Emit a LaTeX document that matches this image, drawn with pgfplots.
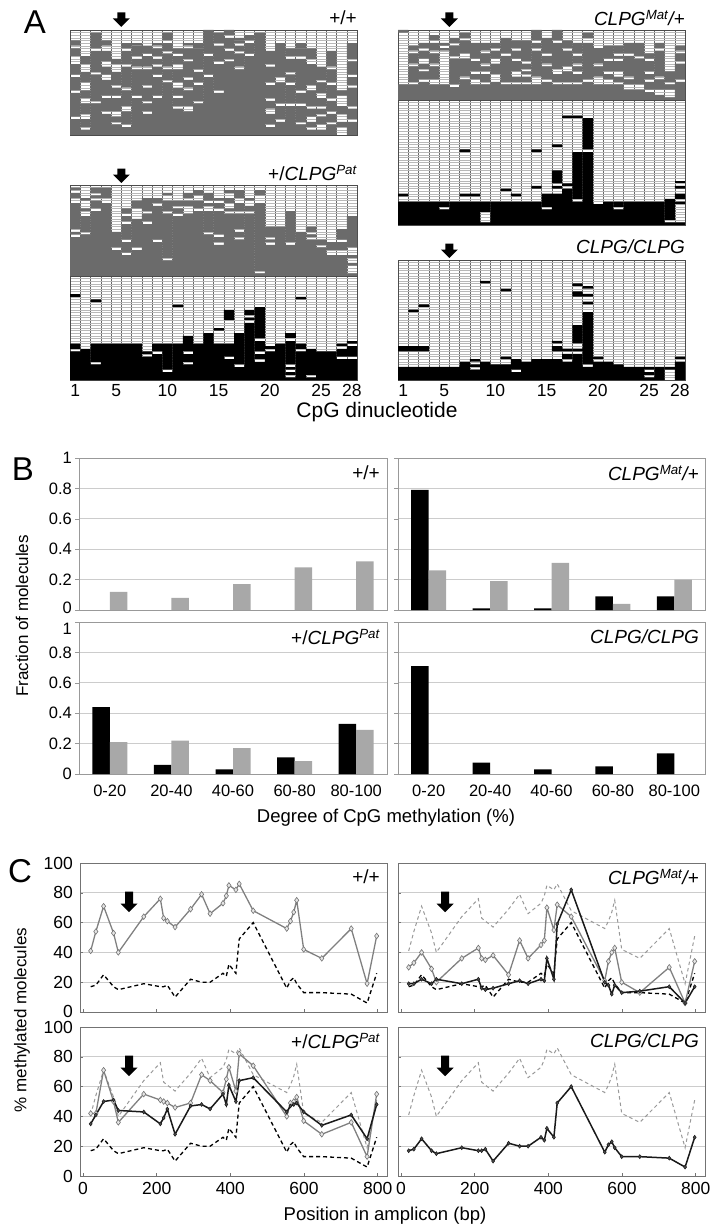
\documentclass[border=0pt]{standalone}
\usepackage{fontspec}
\setmainfont{Liberation Sans}
\usepackage{pgfplots}
\usepackage{pgfplotstable}
\pgfplotsset{compat=1.18}

\definecolor{cgray}{gray}{0.42}
\definecolor{bgray}{gray}{0.66}
\newcommand{\fs}[1]{\fontsize{#1}{#1}\selectfont}

\pgfplotsset{
  mgrid/.style={scale only axis, anchor=north west, width=287pt, height=#1,
     xmin=0.5, xmax=28.5, ymin=0, clip=false,
     ybar stacked, bar width=1,
     xtick={1.5,2.5,...,27.5}, xmajorgrids, x grid style={black!60, line width=0.5pt},
     ymajorgrids, y grid style={black!28, line width=0.3pt},
     xticklabels={}, yticklabels={}, major tick length=0pt,
     axis line style={black!70, line width=0.5pt}},
  rows/.style={ymax=#1, ytick={1,...,#1}},
  G/.style={fill=cgray, draw=none},
  K/.style={fill=black, draw=none},
  W/.style={fill=none, draw=none},
  gs1/.style={G}, gs2/.style={W}, gs3/.style={G}, gs4/.style={W}, gs5/.style={G},
  gs6/.style={W}, gs7/.style={G}, gs8/.style={W}, gs9/.style={G}, gs10/.style={W}, gs11/.style={G},
  ks1/.style={K}, ks2/.style={W}, ks3/.style={K}, ks4/.style={W}, ks5/.style={K},
  ks6/.style={W}, ks7/.style={K}, ks8/.style={W}, ks9/.style={K},
  aticks/.style={extra x ticks={1,5,10,15,20,25,28}, extra x tick labels={1,5,10,15,20,25,28},
     extra x tick style={grid=none, major tick length=0pt, tick label style={font=\fs{17.5}, yshift=-1pt}}},
  bax/.style={scale only axis, anchor=north west, height=152pt, xmin=0.5, xmax=5.5, ymin=0, ymax=1,
     ytick={0,0.2,0.4,0.6,0.8,1}, yticklabels={}, ymajorgrids, y grid style={black!20, line width=0.7pt},
     xtick={1,...,5}, xticklabels={}, axis line style={black!40, line width=0.8pt},
     ytick style={black!40, line width=0.6pt}, xtick style={draw=none}, major tick length=4pt,
     tick align=outside, ytick pos=left, xtick pos=bottom,
     tick label style={font=\fs{16.5}, inner sep=1pt}, xticklabel style={yshift=-6pt},
     yticklabel style={xshift=-2pt}},
  bk/.style={ybar, bar width=17.5pt, bar shift=-8.75pt, fill=black, draw=none},
  bg/.style={ybar, bar width=17.5pt, bar shift=8.75pt, fill=bgray, draw=none},
  cax/.style={scale only axis, anchor=north west, width=307pt, height=149pt,
     xmin=-8, xmax=825, ymin=0, ymax=100,
     ytick={0,20,40,60,80,100}, yticklabels={}, xtick={0,200,400,600,800}, xticklabels={},
     ymajorgrids, y grid style={black!20, line width=0.7pt},
     axis line style={black!55, line width=0.8pt}, tick style={black!55, line width=0.6pt},
     major tick length=3pt, tick align=inside, ytick pos=left, xtick pos=bottom,
     tick label style={font=\fs{17.5}, inner sep=1pt}, xticklabel style={yshift=-5pt},
     yticklabel style={xshift=-6pt}},
  refk/.style={black, line width=1.3pt, dash pattern=on 4pt off 3pt},
  refg/.style={black!40, line width=1pt, dash pattern=on 3.5pt off 3pt},
  graydia/.style={black!50, line width=1.3pt, mark=diamond*, mark size=2.8pt,
     mark options={fill=black!10, draw=black!55, line width=0.6pt, solid}},
  blackdia/.style={black!90, line width=1.5pt, mark=diamond*, mark size=2pt,
     mark options={fill=black!70, draw=black!90, line width=0.5pt, solid}},
}

\newcommand{\stackruns}[3]{\pgfplotsinvokeforeach{1,...,#2}{\addplot[#3##1] table[x=c,y=l##1]{#1};}}
\newcommand{\darrow}[2]{\fill[black] #1 -- ++(8.5pt,8.5pt) -- ++(-4.5pt,0pt) -- ++(0pt,#2) -- ++(-8pt,0pt) -- ++(0pt,-#2) -- ++(-4.5pt,0pt) -- cycle;}

% ---------- Panel A: run lengths per CpG column (bottom to top) ----------
\pgfplotstableread{
c l1 l2 l3 l4 l5 l6 l7 l8 l9 l10 l11
1 6 1 9 1 5 1 4 3 3 1 2
2 2 1 3 2 4 2 3 3 4 3 3
3 12 1 10 1 8 1 4 0 0 0 2
4 8 1 5 1 6 2 3 2 4 2 2
5 4 1 2 2 5 1 3 1 5 3 2
6 3 1 5 2 6 1 8 1 5 1 2
7 14 1 10 1 3 1 4 0 0 0 1
8 8 1 3 1 5 1 6 1 4 1 3
9 14 1 7 1 3 1 2 1 3 1 1
10 20 1 4 1 5 1 3 1 2 0 1
11 10 1 3 1 3 2 5 2 3 1 2
12 9 2 6 1 3 1 6 1 4 1 1
13 12 1 6 1 4 1 8 0 0 0 2
14 22 1 7 1 9 0 0 0 0 0 0
15 16 1 10 1 6 1 4 0 0 0 0
16 28 1 3 1 4 1 2 0 0 0 0
17 25 1 5 1 2 1 1 0 0 0 1
18 30 1 4 1 2 0 0 0 0 0 0
19 38 0 0 0 0 0 0 0 0 0 1
20 3 1 4 2 3 1 5 1 6 1 5
21 5 1 5 1 8 2 10 0 0 0 3
22 11 1 7 1 3 1 5 1 2 0 1
23 4 1 6 1 4 1 12 1 3 0 2
24 2 1 2 2 3 1 6 2 8 2 4
25 2 2 3 1 2 1 3 2 4 1 5
26 4 1 3 1 4 1 5 1 5 1 6
27 0 3 2 3 3 4 2 0 0 0 0
28 5 1 4 1 7 1 3 1 5 1 6
}\tWT

\pgfplotstableread{
c l1 l2 l3 l4 l5 l6 l7 l8 l9
1 6 20 1 0 0 0 0 0 0
2 6 1 6 1 4 1 2 0 0
3 7 1 3 1 2 2 3 1 2
4 6 2 5 1 4 1 3 1 2
5 6 13 1 1 1 0 0 0 0
6 5 1 10 1 4 1 2 0 0
7 8 1 7 2 5 1 2 0 0
8 6 2 2 1 4 1 6 0 0
9 6 1 3 1 2 1 4 1 3
10 7 3 4 2 3 1 2 0 0
11 6 1 10 1 6 0 0 0 0
12 6 1 2 2 4 1 3 1 3
13 6 1 2 1 1 1 2 1 8
14 6 3 10 1 2 1 4 0 0
15 7 1 5 1 3 1 6 0 0
16 6 1 3 2 10 1 4 0 0
17 6 1 4 2 6 1 3 0 0
18 6 1 3 1 2 1 3 1 4
19 7 1 14 2 2 0 0 0 0
20 6 3 4 1 6 0 0 0 0
21 6 2 2 1 4 1 5 0 0
22 6 1 2 2 4 1 1 1 3
23 4 2 2 1 8 1 4 0 0
24 4 2 10 1 5 0 0 0 0
25 3 1 3 1 2 1 4 1 2
26 2 2 4 1 10 1 2 0 0
27 1 3 2 1 4 0 0 0 0
28 7 1 6 1 3 1 2 0 0
}\tMU

\pgfplotstableread{
c l1 l2 l3 l4 l5 l6 l7 l8 l9
1 9 2 1 0 0 0 0 0 0
2 9 0 0 0 0 0 0 0 0
3 9 0 0 0 0 0 0 0 0
4 9 0 0 0 0 0 0 0 0
5 6 1 2 0 0 0 0 0 0
6 9 0 0 0 0 0 0 0 0
7 9 2 1 16 1 0 0 0 0
8 9 2 1 0 0 0 0 0 0
9 1 4 4 0 0 0 0 0 0
10 9 0 0 0 0 0 0 0 0
11 9 4 1 0 0 0 0 0 0
12 9 2 1 0 0 0 0 0 0
13 9 0 0 0 0 0 0 0 0
14 9 5 1 13 1 0 0 0 0
15 6 1 5 0 0 0 0 0 0
16 12 2 1 1 5 9 1 0 0
17 14 1 1 25 1 0 0 0 0
18 9 1 18 13 1 0 0 0 0
19 28 1 12 0 0 0 0 0 0
20 8 0 0 0 0 0 0 0 0
21 9 0 0 0 0 0 0 0 0
22 6 1 2 0 0 0 0 0 0
23 9 0 0 0 0 0 0 0 0
24 9 0 0 0 0 0 0 0 0
25 9 0 0 0 0 0 0 0 0
26 9 0 0 0 0 0 0 0 0
27 1 1 8 0 0 0 0 0 0
28 1 7 1 1 2 2 1 1 1
}\tML

\pgfplotstableread{
c l1 l2 l3 l4 l5 l6 l7 l8 l9
1 15 1 1 1 10 2 2 1 1
2 16 1 6 2 1 3 1 0 0
3 25 1 3 1 1 1 2 0 0
4 28 2 4 0 0 0 0 0 0
5 10 1 6 0 0 0 0 0 0
6 8 1 4 1 6 1 2 1 2
7 10 1 11 4 3 0 0 0 0
8 20 1 3 1 5 0 0 0 0
9 13 1 13 1 2 0 0 0 0
10 6 1 17 1 4 2 1 0 0
11 23 1 2 1 2 0 0 0 0
12 24 3 2 1 2 0 0 0 0
13 25 1 3 2 2 0 0 0 0
14 16 1 8 2 1 1 3 0 0
15 12 1 2 1 9 1 2 1 1
16 24 1 1 2 2 2 1 0 0
17 14 1 2 1 6 1 3 2 3
18 24 1 2 2 1 0 0 0 0
19 1 1 26 3 2 0 0 0 0
20 12 1 1 1 4 0 0 0 0
21 19 0 0 0 0 0 0 0 0
22 12 1 12 0 0 0 0 0 0
23 17 0 0 0 0 0 0 0 0
24 14 1 1 1 2 0 0 0 0
25 11 1 2 0 0 0 0 0 0
26 8 2 3 0 0 0 0 0 0
27 8 2 3 1 4 0 0 0 0
28 1 3 1 2 1 3 12 0 0
}\tPU

\pgfplotstableread{
c l1 l2 l3 l4 l5 l6 l7 l8 l9
1 11 1 2 18 1 0 0 0 0
2 12 0 0 0 0 0 0 0 0
3 6 1 7 16 1 0 0 0 0
4 14 0 0 0 0 0 0 0 0
5 14 0 0 0 0 0 0 0 0
6 14 0 0 0 0 0 0 0 0
7 14 0 0 0 0 0 0 0 0
8 9 1 1 0 0 0 0 0 0
9 10 1 3 0 0 0 0 0 0
10 3 1 10 0 0 0 0 0 0
11 14 14 1 0 0 0 0 0 0
12 6 1 3 1 6 0 0 0 0
13 14 0 0 0 0 0 0 0 0
14 18 0 0 0 0 0 0 0 0
15 14 5 1 0 0 0 0 0 0
16 8 1 5 9 4 0 0 0 0
17 5 1 12 0 0 0 0 0 0
18 22 1 1 1 2 0 0 0 0
19 7 1 2 1 4 1 12 0 0
20 11 1 1 0 0 0 0 0 0
21 14 0 0 0 0 0 0 0 0
22 1 1 1 1 1 1 9 1 2
23 11 1 2 17 1 0 0 0 0
24 1 1 10 0 0 0 0 0 0
25 11 0 0 0 0 0 0 0 0
26 11 0 0 0 0 0 0 0 0
27 8 1 3 1 1 0 0 0 0
28 8 1 4 1 1 0 0 0 0
}\tPL

\pgfplotstableread{
c l1 l2 l3 l4 l5 l6 l7 l8 l9
1 5 6 2 0 0 0 0 0 0
2 5 6 2 13 1 0 0 0 0
3 5 6 2 15 1 0 0 0 0
4 5 0 0 0 0 0 0 0 0
5 5 0 0 0 0 0 0 0 0
6 5 0 0 0 0 0 0 0 0
7 7 0 0 0 0 0 0 0 0
8 4 1 1 1 1 0 0 0 0
9 7 30 1 0 0 0 0 0 0
10 6 0 0 0 0 0 0 0 0
11 6 2 1 25 1 0 0 0 0
12 3 1 4 0 0 0 0 0 0
13 7 0 0 0 0 0 0 0 0
14 8 0 0 0 0 0 0 0 0
15 8 0 0 0 0 0 0 0 0
16 8 3 2 1 1 0 0 0 0
17 7 1 2 1 1 0 0 0 0
18 10 1 1 2 7 11 2 2 1
19 5 1 20 3 1 2 1 2 1
20 7 1 1 0 0 0 0 0 0
21 7 0 0 0 0 0 0 0 0
22 6 0 0 0 0 0 0 0 0
23 5 0 0 0 0 0 0 0 0
24 5 0 0 0 0 0 0 0 0
25 1 1 1 1 1 0 0 0 0
26 5 0 0 0 0 0 0 0 0
27 0 4 1 0 0 0 0 0 0
28 7 1 1 0 0 0 0 0 0
}\tH

% ---------- Panel C data ----------
\pgfplotstableread{
pos wt matg matk patg patk hom
21 41 30 19 42 35 17
35 54 33 19 42 41 18
56 71 40 22 71 50 25
83 53 29 19 50 51 17
96 40 20 22 36 44 15
165 64 36 19 55 43 19
210 76 43 22 51 35 17
219 63 36 16 50 39 17
229 61 35 15 49 45 18
250 57 38 16 46 28 10
292 69 25 19 49 47 22
322 79 48 21 68 48 20
345 66 36 19 64 45 20
380 73 45 22 56 55 26
389 78 48 21 65 48 24
396 85 70 36 73 61 32
415 82 55 22 57 50 26
424 86 72 59 82 64 49
462 68 64 82 74 66 60
553 56 21 20 40 43 16
563 61 34 18 49 47 21
572 67 40 12 50 48 23
580 75 43 18 53 49 19
599 42 20 13 37 43 13
648 36 13 14 28 34 13
728 56 30 17 36 41 12
771 19 6 6 13 25 6
797 51 34 17 55 48 26
}\cdat

\begin{document}
\begin{tikzpicture}[x=1pt,y=1pt]
\path[use as bounding box] (0,0) rectangle (709,-1225);

% ================= A =================
\node[font=\fs{33}] at (35,-22) {A};
\begin{axis}[mgrid=105pt, rows=40, at={(70pt,-30pt)}]
  \stackruns{\tWT}{11}{gs}
  \darrow{([yshift=3pt]axis cs:5.5,40)}{6pt}
\end{axis}
\begin{axis}[mgrid=70pt, rows=27, at={(398pt,-30pt)}]
  \stackruns{\tMU}{9}{gs}
  \darrow{([yshift=3pt]axis cs:5.5,27)}{6pt}
\end{axis}
\begin{axis}[mgrid=125pt, rows=48, at={(398pt,-100pt)}]
  \stackruns{\tML}{9}{ks}
\end{axis}
\begin{axis}[mgrid=91pt, rows=35, at={(70pt,-185pt)}]
  \stackruns{\tPU}{9}{gs}
  \darrow{([yshift=2pt]axis cs:5.5,35)}{6pt}
\end{axis}
\begin{axis}[mgrid=104pt, rows=40, at={(70pt,-276pt)}, aticks]
  \stackruns{\tPL}{9}{ks}
\end{axis}
\begin{axis}[mgrid=120pt, rows=46, at={(398pt,-260pt)}, aticks]
  \stackruns{\tH}{9}{ks}
  \darrow{([yshift=2pt]axis cs:5.5,46)}{6pt}
\end{axis}
\node[anchor=east, inner sep=0pt, font=\fs{19}] at (357,-18) {+/+};
\node[anchor=east, inner sep=0pt, font=\fs{19}] at (685,-18) {\textit{CLPG\textsuperscript{Mat}/+}};
\node[anchor=east, inner sep=0pt, font=\fs{19}] at (357,-173) {+/\textit{CLPG\textsuperscript{Pat}}};
\node[anchor=east, inner sep=0pt, font=\fs{19}] at (685,-247) {\textit{CLPG/CLPG}};
\node[font=\fs{21}] at (377,-412) {CpG dinucleotide};

% ================= B =================
\node[font=\fs{33}] at (23,-469) {B};
\begin{axis}[bax, width=308pt, at={(79pt,-458pt)}, yticklabels={{},0.2,0.4,0.6,0.8,1}]
  \addplot[bg] coordinates {(1,0.12)(2,0.08)(3,0.17)(4,0.28)(5,0.32)};
\end{axis}
\begin{axis}[bax, width=307pt, at={(398pt,-458pt)}]
  \addplot[bk] coordinates {(1,0.79)(2,0.01)(3,0.01)(4,0.09)(5,0.09)};
  \addplot[bg] coordinates {(1,0.26)(2,0.19)(3,0.31)(4,0.04)(5,0.20)};
\end{axis}
\begin{axis}[bax, width=308pt, at={(79pt,-622pt)}, yticklabels={0,0.2,0.4,0.6,0.8,{}},
   xticklabels={0-20,20-40,40-60,60-80,80-100}]
  \addplot[bk] coordinates {(1,0.44)(2,0.06)(3,0.03)(4,0.11)(5,0.33)};
  \addplot[bg] coordinates {(1,0.21)(2,0.22)(3,0.17)(4,0.085)(5,0.29)};
\end{axis}
\begin{axis}[bax, width=307pt, at={(398pt,-622pt)}, xticklabels={0-20,20-40,40-60,60-80,80-100}]
  \addplot[bk] coordinates {(1,0.71)(2,0.075)(3,0.03)(4,0.05)(5,0.135)};
\end{axis}
\node[anchor=east, inner sep=0pt, font=\fs{16.5}] at (72,-608) {0};
\node[anchor=east, inner sep=0pt, font=\fs{16.5}] at (72,-629) {1};
\node[rotate=90, font=\fs{17}] at (22,-616) {Fraction of molecules};
\node[font=\fs{18.5}] at (386,-818) {Degree of CpG methylation (\%)};
\node[anchor=east, inner sep=0pt, font=\fs{19}] at (380,-473) {+/+};
\node[anchor=east, inner sep=0pt, font=\fs{19}] at (699,-473) {\textit{CLPG\textsuperscript{Mat}/+}};
\node[anchor=east, inner sep=0pt, font=\fs{19}] at (380,-637) {+/\textit{CLPG\textsuperscript{Pat}}};
\node[anchor=east, inner sep=0pt, font=\fs{19}] at (699,-637) {\textit{CLPG/CLPG}};

% ================= C =================
\node[font=\fs{33}] at (20,-871) {C};
\begin{axis}[cax, at={(80pt,-863pt)}, yticklabels={\raisebox{2pt}{0},20,40,60,80,100}]
  \addplot[refk] table[x=pos,y=hom]{\cdat};
  \addplot[graydia] table[x=pos,y=wt]{\cdat};
  \darrow{(axis cs:125,67)}{12pt}
\end{axis}
\begin{axis}[cax, at={(398pt,-863pt)}]
  \addplot[refg] table[x=pos,y=wt]{\cdat};
  \addplot[refk] table[x=pos,y=hom]{\cdat};
  \addplot[graydia] table[x=pos,y=matg]{\cdat};
  \addplot[blackdia] table[x=pos,y=matk]{\cdat};
  \darrow{(axis cs:120,67)}{12pt}
\end{axis}
\begin{axis}[cax, at={(80pt,-1027pt)}, yticklabels={0,20,40,60,80,\raisebox{-5pt}{100}},
   xticklabels={0,200,400,600,800}]
  \addplot[refg] table[x=pos,y=wt]{\cdat};
  \addplot[refk] table[x=pos,y=hom]{\cdat};
  \addplot[graydia] table[x=pos,y=patg]{\cdat};
  \addplot[blackdia] table[x=pos,y=patk]{\cdat};
  \darrow{(axis cs:125,67)}{12pt}
\end{axis}
\begin{axis}[cax, at={(398pt,-1027pt)}, xticklabels={0,200,400,600,800}]
  \addplot[refg] table[x=pos,y=wt]{\cdat};
  \addplot[blackdia] table[x=pos,y=hom]{\cdat};
  \darrow{(axis cs:120,67)}{12pt}
\end{axis}
\node[rotate=90, font=\fs{17}] at (22,-1020) {\% methylated molecules};
\node[font=\fs{18.5}] at (385,-1216) {Position in amplicon (bp)};
\node[anchor=east, inner sep=0pt, font=\fs{19}] at (380,-877) {+/+};
\node[anchor=east, inner sep=0pt, font=\fs{19}] at (699,-877) {\textit{CLPG\textsuperscript{Mat}/+}};
\node[anchor=east, inner sep=0pt, font=\fs{19}] at (380,-1041) {+/\textit{CLPG\textsuperscript{Pat}}};
\node[anchor=east, inner sep=0pt, font=\fs{19}] at (699,-1041) {\textit{CLPG/CLPG}};
\end{tikzpicture}
\end{document}
